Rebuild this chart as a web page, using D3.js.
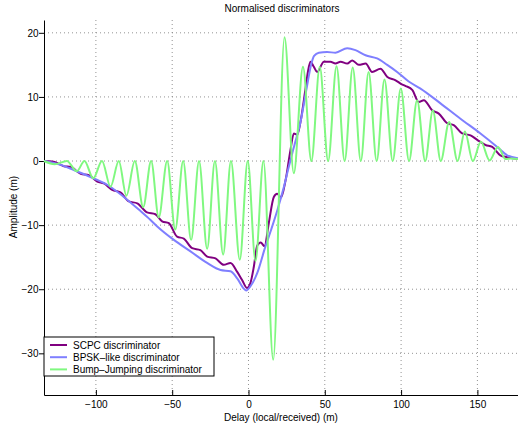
<!DOCTYPE html>
<html>
<head>
<meta charset="utf-8">
<script src="https://cdn.jsdelivr.net/npm/d3@7/dist/d3.min.js"></script>
<style>
  html, body { margin: 0; padding: 0; background: #fff; }
  svg { display: block; }
  text { font-family: "Liberation Sans", Arial, Helvetica, sans-serif; fill: #000; }
</style>
</head>
<body>
<svg id="chart" width="518" height="430"></svg>
<script>
// ---- Data ----
const titleText = "Normalised discriminators";
const xLabel = "Delay (local/received) (m)";
const yLabel = "Amplitude (m)";
const xTicks = [-100, -50, 0, 50, 100, 150];
const yTicks = [-30, -20, -10, 0, 10, 20];
const seriesNames = ["SCPC discriminator", "BPSK\u2013like discriminator", "Bump\u2013Jumping discriminator"];
const seriesColors = ["#800080", "#7f7fff", "#80f880"];

const scpcX = [-134, -127.6, -121, -116.6, -110, -104.6, -99.1, -94.8, -89.3, -83.9, -78.4, -72.9, -66.5, -61, -56.6, -52.2, -46.8, -42.4, -36.9, -31.5, -27.1, -21.6, -16.2, -11.8, -7.4, -4.1, -1, 1.3, 3.5, 5.7, 8, 10.5, 13.3, 16.6, 18.8, 21.3, 24.3, 27.5, 29.7, 32, 34, 37.2, 39, 40.6, 42.8, 45, 49.4, 53.7, 57, 60.3, 64.7, 68, 72.3, 76.8, 81, 86.5, 91, 96.4, 100.2, 103, 107.3, 111.6, 114.9, 120.4, 124.7, 130.2, 134.5, 140, 145.5, 149.9, 155.3, 159.7, 165, 169.5, 177];
const scpcY = [0, -0.1, -0.8, -0.9, -2.0, -2.2, -3.2, -3.5, -4.5, -4.9, -6.3, -6.6, -8.0, -8.3, -9.4, -9.7, -11.8, -12.1, -13.6, -13.9, -14.9, -15.2, -16.2, -15.9, -17.3, -18.6, -19.8, -19.0, -16.5, -13.2, -12.7, -13.3, -9.7, -5.6, -5.1, -5.7, -3.0, 1.7, 4.3, 4.1, 6.0, 11.0, 14.0, 15.5, 14.7, 13.9, 15.5, 15.5, 15.2, 15.5, 15.2, 15.7, 15.0, 15.2, 13.9, 14.4, 13.1, 12.6, 12.0, 11.7, 11.1, 9.2, 9.5, 7.9, 7.4, 5.9, 5.6, 4.3, 4.0, 3.3, 2.5, 2.2, 0.9, 0.6, 0.3];

const bpskX = [-134, -123, -114.5, -103.5, -92.6, -81.7, -70.8, -64.2, -59.8, -48.9, -38, -27.1, -18.3, -11.8, -7.4, -3.1, -1.5, 1.1, 5.7, 11, 15, 19, 23, 26.5, 30, 34, 38.3, 41, 43, 46.1, 51.5, 57, 64.7, 70.1, 76.7, 84.3, 90.9, 97.4, 105, 112.7, 125.8, 138.9, 152, 163, 169.5, 177];
const bpskY = [0, -0.6, -1.4, -2.5, -3.7, -5.6, -7.8, -9.2, -10.2, -12.3, -14.1, -15.9, -17.0, -17.2, -18.3, -19.9, -20.2, -19.6, -17.5, -13.4, -10.6, -7.6, -4.2, -0.8, 2.4, 6.0, 11.6, 15.0, 16.4, 16.9, 17.0, 16.9, 17.6, 17.3, 16.5, 16.0, 15.0, 13.9, 12.4, 11.3, 9.0, 6.6, 4.3, 2.2, 0.9, 0.4];

const bumpX = [-134, -127, -119, -112.5, -107.5, -101.7, -96, -90.4, -85, -80, -74.5, -69, -63.8, -58.8, -53.3, -48, -42.8, -37.6, -32.4, -27.1, -22, -16.6, -11.5, -5.7, -0.5, 4.6, 9.8, 16.2, 23.6, 29.7, 35.7, 41.2, 46.7, 52.2, 57.7, 63, 68.3, 73.6, 78.7, 84, 89.1, 94.5, 99.8, 105.2, 110.5, 115.8, 120.8, 126, 131.5, 137, 141.8, 147, 152.3, 158, 163.5, 168.5, 172, 177];
const bumpY = [0, -0.5, 0, -1.6, 0, -2.7, 0, -4.0, 0, -5.4, 0, -7.2, 0, -8.8, 0, -10.7, 0, -12.3, 0, -13.7, 0, -14.6, 0, -15.4, 0, -15.6, 0, -31, 19.3, -1.9, 14.7, 0, 14.7, 0, 14.8, 0, 14.6, 0, 13.9, 0, 12.7, 0, 11.3, 0, 9.5, 0, 7.9, 0, 6.1, 0, 4.6, 0, 3.0, 0.1, 2.2, 0.3, 0.4, 0.3];

// ---- Layout ----
const svg = d3.select("#chart");
const L = 44, R = 518.6, T = 20, B = 395;
const x = d3.scaleLinear().domain([-134, 177]).range([L, R]);
const y = d3.scaleLinear().domain([-36.5, 22]).range([B, T]);

// grid
const grid = svg.append("g").attr("stroke", "#777").attr("stroke-width", 0.8).attr("stroke-dasharray", "1,3");
xTicks.forEach(t => grid.append("line").attr("x1", x(t)).attr("x2", x(t)).attr("y1", T).attr("y2", B));
yTicks.forEach(t => grid.append("line").attr("x1", L).attr("x2", R).attr("y1", y(t)).attr("y2", y(t)));

// axes
const fmt = d => d < 0 ? "\u2212" + Math.abs(d) : String(d);
const xAxis = d3.axisBottom(x).tickValues(xTicks).tickFormat(fmt).tickSizeInner(-5).tickSizeOuter(0).tickPadding(5.5);
const gx = svg.append("g").attr("transform", `translate(0,${B})`).call(xAxis);
const yAxis = d3.axisLeft(y).tickValues(yTicks).tickFormat(fmt).tickSizeInner(5).tickSizeOuter(0).tickPadding(0.5);
const gy = svg.append("g").attr("transform", `translate(${L},0)`).call(yAxis);
[gx, gy].forEach(g => {
  g.selectAll("text").attr("font-size", 10).attr("font-family", "Liberation Sans, Arial, sans-serif").attr("fill", "#000");
  g.selectAll("line").attr("stroke", "#000");
  g.select(".domain").attr("stroke", "#000");
});

// series
const series = [
  {xs: scpcX, ys: scpcY},
  {xs: bpskX, ys: bpskY},
  {xs: bumpX, ys: bumpY}
];
const line = d3.line().x(d => x(d[0])).y(d => y(d[1])).curve(d3.curveMonotoneX);
series.forEach((s, i) => {
  const pts = s.xs.map((v, j) => [v, s.ys[j]]);
  svg.append("path").datum(pts).attr("d", line)
    .attr("fill", "none").attr("stroke", seriesColors[i]).attr("stroke-width", 2)
    .attr("stroke-linejoin", "round");
});

// title and labels
svg.append("text").attr("x", 282).attr("y", 11.5).attr("text-anchor", "middle").attr("font-size", 10).text(titleText);
svg.append("text").attr("x", 281).attr("y", 421).attr("text-anchor", "middle").attr("font-size", 10).text(xLabel);
svg.append("text").attr("transform", `translate(17,207) rotate(-90)`).attr("text-anchor", "middle").attr("font-size", 10).text(yLabel);

// legend
const lg = svg.append("g");
lg.append("rect").attr("x", 44).attr("y", 337).attr("width", 170).attr("height", 39)
  .attr("fill", "#fff").attr("stroke", "#000").attr("stroke-width", 1);
seriesNames.forEach((n, i) => {
  const yy = 345 + i * 12.2;
  lg.append("line").attr("x1", 50).attr("x2", 67).attr("y1", yy).attr("y2", yy)
    .attr("stroke", seriesColors[i]).attr("stroke-width", 2);
  lg.append("text").attr("x", 73).attr("y", yy + 3.5).attr("font-size", 10).text(n);
});
</script>
</body>
</html>
